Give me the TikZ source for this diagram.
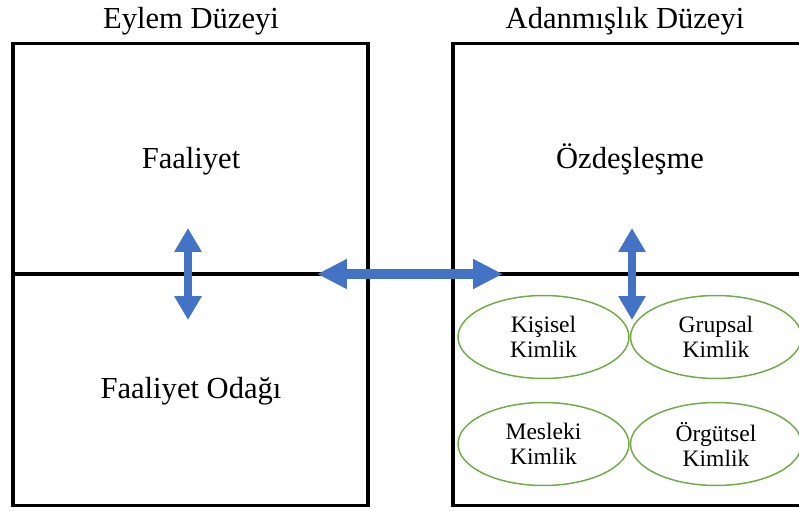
\documentclass[tikz,border=0pt]{standalone}
\usepackage{fontspec}
\setmainfont{Liberation Serif}
\usepackage{tikz}
\usetikzlibrary{arrows.meta}
\usetikzlibrary{shapes.geometric}
\usepackage{xcolor}
\definecolor{ColA}{RGB}{68,114,196}
\definecolor{ColB}{RGB}{112,173,71}
\tikzstyle{LevelBox}=[draw=black,line width=2.1pt]
\tikzstyle{NodeTitle}=[inner sep=0pt,anchor=base,font=\fontsize{17.4}{20}\selectfont]
\tikzstyle{NodeIdentity}=[ellipse,draw=ColB,line width=0.85pt,minimum width=3.42cm,
minimum height=1.66cm,inner sep=0pt,align=center,font=\fontsize{13.4}{14.2}\selectfont]
\tikzstyle{ArrowV}=[ColA,line width=0.17cm,
{Triangle[length=0.48cm,width=0.52cm]}-{Triangle[length=0.48cm,width=0.52cm]}]
\tikzstyle{ArrowH}=[ColA,line width=0.2cm,
{Triangle[length=0.6cm,width=0.56cm]}-{Triangle[length=0.6cm,width=0.56cm]}]

\begin{document}
\begin{tikzpicture}[x=0.02cm,y=-0.02cm]
        \clip(0,0)rectangle(799,511);
        % levels
        \draw[LevelBox](13,43.5)rectangle(368,505.5);
        \draw[LevelBox](13,274)--(368,274);
        \draw[LevelBox](453,43.5)rectangle(815,505.5);
        \draw[LevelBox](453,274)--(815,274);
        \node[NodeTitle](eylem)at(191,28){Eylem Düzeyi};
        \node[NodeTitle](adanma)at(625,28){Adanmışlık Düzeyi};
        \node[NodeTitle](faal)at(191,168){Faaliyet};
        \node[NodeTitle](odak)at(191,398){Faaliyet Odağı};
        \node[NodeTitle](ozdes)at(630,168){Özdeşleşme};
        % identities
        \node[NodeIdentity](kisisel)at(543.5,337){Kişisel\\Kimlik};
        \node[NodeIdentity](grupsal)at(716,337){Grupsal\\Kimlik};
        \node[NodeIdentity](mesleki)at(543.5,444){Mesleki\\Kimlik};
        \node[NodeIdentity](orgutsel)at(716,444){Örgütsel\\Kimlik};
        % arrows
        \coordinate(actTop)at(188,228);
        \coordinate(actBot)at(188,320);
        \coordinate(linkL)at(317,274);
        \coordinate(linkR)at(503,274);
        \coordinate(idTop)at(632,228);
        \coordinate(idBot)at(632,320);
        \draw[ArrowV](actTop)--(actBot);
        \draw[ArrowH](linkL)--(linkR);
        \draw[ArrowV](idTop)--(idBot);
    \end{tikzpicture}
\end{document}
